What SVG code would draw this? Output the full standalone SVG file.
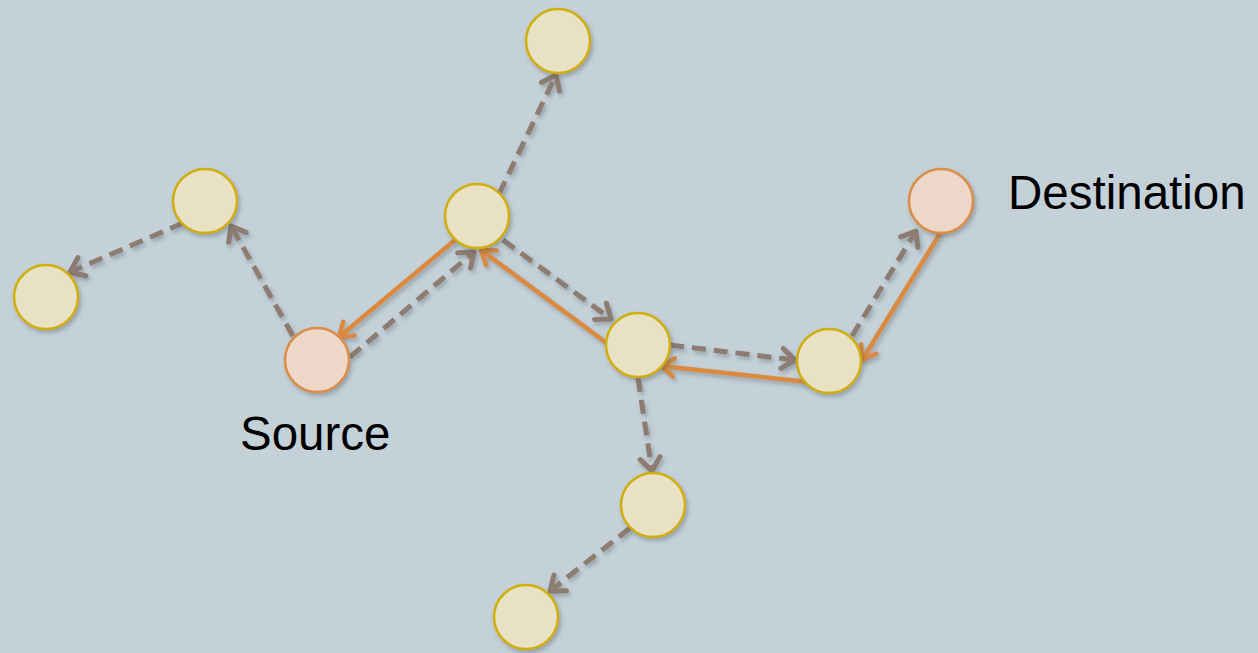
<svg xmlns="http://www.w3.org/2000/svg" width="1258" height="653" viewBox="0 0 1258 653">
  <defs>
    <style>
      .node { fill: #E9E1C4; stroke: #CFAE0A; stroke-width: 2.5; }
      .endpoint { fill: #EDD7C9; stroke: #D98D45; stroke-width: 2.5; }
      .req { fill: none; stroke: #8C7C71; stroke-width: 5; stroke-dasharray: 14 8; }
      .rep { fill: none; stroke: #D98A3F; stroke-width: 4.5; stroke-linecap: round; }
      .label { font-family: "Liberation Sans", Arial, sans-serif; font-size: 47.5px; fill: #000; }
    </style>
    <filter id="shadow" x="-30%" y="-30%" width="160%" height="160%">
      <feDropShadow dx="2" dy="3" stdDeviation="2" flood-color="#3a4a55" flood-opacity="0.35"/>
    </filter>
    <marker id="arrowGray" markerUnits="userSpaceOnUse" orient="auto" markerWidth="30" markerHeight="30" viewBox="-16 -15 20 30" refX="0" refY="0">
      <path d="M-13,-10 L0,0 L-13,10" fill="none" stroke="#8C7C71" stroke-width="5" stroke-linecap="round" stroke-linejoin="round"/>
    </marker>
    <marker id="arrowOrange" markerUnits="userSpaceOnUse" orient="auto" markerWidth="30" markerHeight="30" viewBox="-16 -15 20 30" refX="0" refY="0">
      <path d="M-13,-9 L0,0 L-13,9" fill="none" stroke="#D98A3F" stroke-width="4.5" stroke-linecap="round" stroke-linejoin="round"/>
    </marker>
  </defs>

  <rect width="1258" height="653" fill="#C5D1D8"/>

  <g id="connectors" filter="url(#shadow)">
    <!-- request flood (dashed) -->
    <line class="req" x1="499" y1="194" x2="556" y2="75" marker-end="url(#arrowGray)"/>
    <line class="req" x1="293" y1="336" x2="231" y2="226" marker-end="url(#arrowGray)"/>
    <line class="req" x1="183" y1="223" x2="70" y2="272" marker-end="url(#arrowGray)"/>
    <line class="req" x1="350" y1="357" x2="474" y2="252" marker-end="url(#arrowGray)"/>
    <line class="req" x1="503" y1="240" x2="611" y2="319" marker-end="url(#arrowGray)"/>
    <line class="req" x1="670" y1="345" x2="795" y2="360" marker-end="url(#arrowGray)"/>
    <line class="req" x1="852" y1="336" x2="916" y2="231" marker-end="url(#arrowGray)"/>
    <line class="req" x1="638" y1="378" x2="652" y2="471" marker-end="url(#arrowGray)"/>
    <line class="req" x1="630" y1="528" x2="550" y2="591" marker-end="url(#arrowGray)"/>
    <!-- reply path (solid) -->
    <line class="rep" x1="455" y1="240" x2="339" y2="337" marker-end="url(#arrowOrange)"/>
    <line class="rep" x1="608" y1="344" x2="481" y2="250" marker-end="url(#arrowOrange)"/>
    <line class="rep" x1="808" y1="382" x2="661" y2="366" marker-end="url(#arrowOrange)"/>
    <line class="rep" x1="941" y1="232" x2="862" y2="360" marker-end="url(#arrowOrange)"/>
  </g>

  <g id="node-top" filter="url(#shadow)"><circle class="node" cx="558" cy="41" r="32"/></g>
  <g id="node-a" filter="url(#shadow)"><circle class="node" cx="205" cy="201" r="32"/></g>
  <g id="node-b" filter="url(#shadow)"><circle class="node" cx="46" cy="297" r="32"/></g>
  <g id="node-source" filter="url(#shadow)"><circle class="endpoint" cx="317" cy="360" r="32"/></g>
  <g id="node-hub" filter="url(#shadow)"><circle class="node" cx="477" cy="216" r="32"/></g>
  <g id="node-m" filter="url(#shadow)"><circle class="node" cx="638" cy="345" r="32"/></g>
  <g id="node-r" filter="url(#shadow)"><circle class="node" cx="829" cy="361" r="32"/></g>
  <g id="node-destination" filter="url(#shadow)"><circle class="endpoint" cx="941" cy="201" r="32"/></g>
  <g id="node-d1" filter="url(#shadow)"><circle class="node" cx="653" cy="505" r="32"/></g>
  <g id="node-d2" filter="url(#shadow)"><circle class="node" cx="526" cy="617" r="32"/></g>

  <g id="labels">
    <text class="label" x="240" y="450">Source</text>
    <text class="label" x="1008" y="209">Destination</text>
  </g>
</svg>
